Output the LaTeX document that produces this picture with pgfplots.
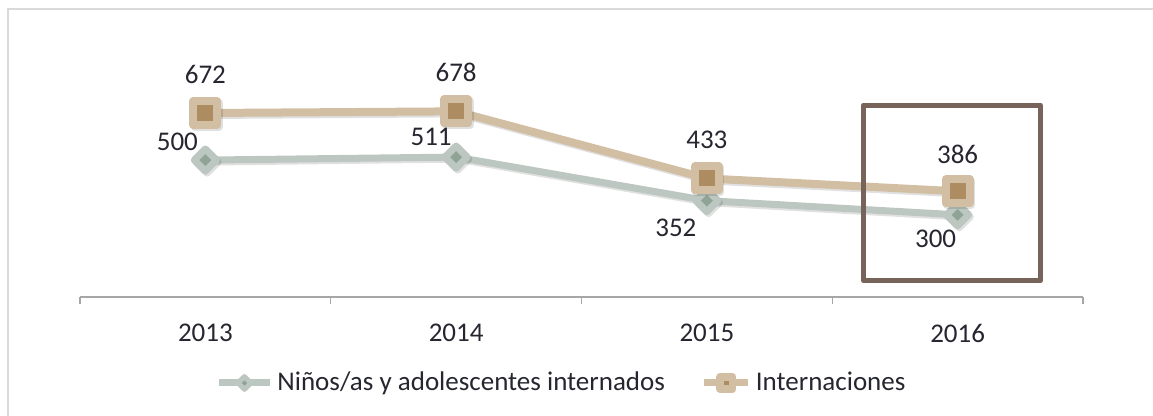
\documentclass[border=0pt]{standalone}
\usepackage{pgfplots}
\pgfplotsset{compat=1.18}
\usepackage{fontspec}
\setmainfont{Carlito}
\definecolor{ninoLine}{HTML}{BDC7C1}
\definecolor{ninoIn}{HTML}{8FA397}
\definecolor{intLine}{HTML}{D2BEA2}
\definecolor{intIn}{HTML}{AD8C62}
\definecolor{boxc}{HTML}{76645A}
\definecolor{txt}{HTML}{262630}
\definecolor{frame}{HTML}{D9D9D9}
\definecolor{axc}{HTML}{A6A6A6}
\begin{document}
\begin{tikzpicture}
\useasboundingbox (0,0) rectangle (576.5pt,208pt);
\draw[frame, line width=0.8pt] (4pt,0pt) -- (4pt,203.5pt) -- (576.5pt,203.5pt);
\begin{axis}[
  at={(40pt,59.5pt)}, anchor=south west,
  scale only axis, width=501.5pt, height=136.9pt,
  xmin=-0.5, xmax=3.5, ymin=0, ymax=1000,
  axis x line*=bottom, axis y line=none,
  x axis line style={draw=axc, line width=0.6pt, -},
  xtick={0,1,2,3}, xticklabels={2013,2014,2015,2016},
  major tick length=0pt,
  minor xtick={-0.5,0.5,1.5,2.5,3.5},
  minor tick length=3.5pt, tick align=outside,
  minor tick style={draw=axc, line width=0.6pt},
  xticklabel style={anchor=center, yshift=-18pt, text=txt},
  font=\fontsize{13.5}{16}\selectfont,
  clip=false,
  legend columns=2,
  legend style={at={(0.481,-0.314)}, anchor=center, draw=none, fill=none,
    font=\fontsize{13.5}{16}\selectfont, text=txt,
    /tikz/every even column/.append style={column sep=16pt},
    inner sep=0pt, row sep=0pt},
]
% soft shadows
\addplot[forget plot, color=black, opacity=0.12, line width=3.5pt, line join=round,
  mark=square*, mark size=3.9pt,
  mark options={rotate=45, fill=black, draw=black, line width=3.5pt, line join=round},
  shift={(0.8pt,-1pt)}] coordinates {(0,500) (1,511) (2,352) (3,300)};
\addplot[color=ninoLine, line width=3.5pt, line join=round,
  mark=square*, mark size=3.9pt,
  mark options={rotate=45, fill=ninoIn, draw=ninoLine, line width=3.5pt, line join=round},
  legend image code/.code={
    \draw[line width=3.5pt, ninoLine] (0pt,0pt) -- (25.5pt,0pt);
    \draw[fill=ninoIn, draw=ninoLine, line width=2.5pt, line join=round]
      (12.75pt,3.2pt) -- (15.95pt,0pt) -- (12.75pt,-3.2pt) -- (9.55pt,0pt) -- cycle;}
] coordinates {(0,500) (1,511) (2,352) (3,300)};
\addlegendentry{Niños/as y adolescentes internados}
\addplot[forget plot, color=black, opacity=0.12, line width=4pt, line join=round,
  mark=square*, mark size=6pt,
  mark options={fill=black, draw=black, line width=4pt, line join=round},
  shift={(0.8pt,-1pt)}] coordinates {(0,672) (1,678) (2,433) (3,386)};
\addplot[color=intLine, line width=4pt, line join=round,
  mark=square*, mark size=6pt,
  mark options={fill=intIn, draw=intLine, line width=4pt, line join=round},
  legend image code/.code={
    \draw[line width=3.5pt, intLine] (0pt,0pt) -- (22pt,0pt);
    \draw[fill=intIn, draw=intLine, line width=3.75pt, line join=round]
      (7.9pt,-3.1pt) rectangle (14.1pt,3.1pt);}
] coordinates {(0,672) (1,678) (2,433) (3,386)};
\addlegendentry{Internaciones}
\begin{scope}[every node/.style={text=txt, font=\fontsize{13.5}{16}\selectfont, anchor=center}]
\node[yshift=19.5pt] at (axis cs:0,672) {672};
\node[yshift=19.5pt] at (axis cs:1,678) {678};
\node[yshift=19.5pt] at (axis cs:2,433) {433};
\node[yshift=18.5pt] at (axis cs:3,386) {386};
\node[xshift=-14pt, yshift=9pt] at (axis cs:0,500) {500};
\node[xshift=-12.5pt, yshift=10pt] at (axis cs:1,511) {511};
\node[xshift=-15.5pt, yshift=-13.5pt] at (axis cs:2,352) {352};
\node[xshift=-11pt, yshift=-12pt] at (axis cs:3,300) {300};
\end{scope}
\draw[boxc, line width=2.5pt, line join=round] (axis cs:2.6246,701) rectangle (axis cs:3.330,60);
\end{axis}
\end{tikzpicture}
\end{document}
